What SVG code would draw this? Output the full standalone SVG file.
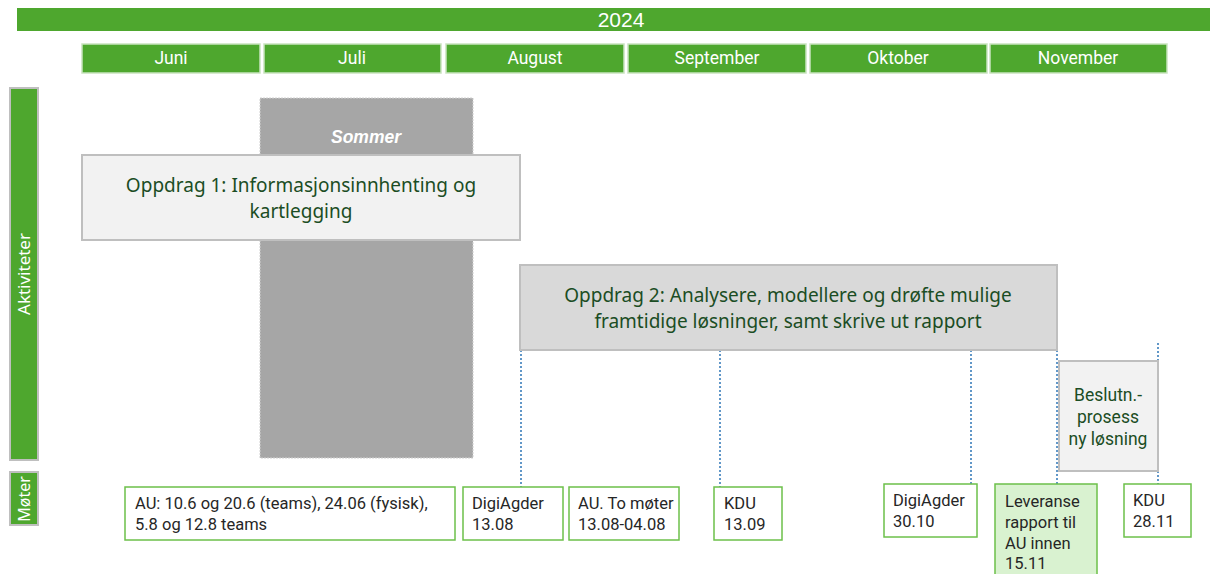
<svg xmlns="http://www.w3.org/2000/svg" width="1212" height="574" viewBox="0 0 1212 574">
<style>
.g{fill:#4ea72e;stroke:#c9e3bf;stroke-width:1.5}
.mt{font-family:Roboto,"Liberation Sans",sans-serif;font-size:17.5px;fill:#fff;text-anchor:middle}
.act{stroke:#bfbfbf;stroke-width:2}
.at{font-family:"Noto Sans","Open Sans",sans-serif;font-size:19px;fill:#1b4d24;text-anchor:middle}
.mb{stroke:#6cc04a;stroke-width:1.5}
.tx{font-family:Roboto,"Liberation Sans",sans-serif;font-size:16.5px;fill:#262626}
.bt{font-family:Roboto,"Liberation Sans",sans-serif;font-size:17.5px;fill:#1b4d24;text-anchor:middle}
.dl{stroke:#2e75b6;stroke-width:1.5;stroke-dasharray:2 2;fill:none}
</style>
<rect width="1212" height="574" fill="#fff"/>
<g id="year"><rect x="17" y="8" width="1193" height="23" fill="#4ea72e"/><text x="621" y="27" font-family="'Liberation Sans',sans-serif" font-size="21" fill="#fff" text-anchor="middle">2024</text></g>
<g id="months">
<g id="m-juni"><rect class="g" x="82" y="44" width="178" height="29"/><text class="mt" x="171" y="64">Juni</text></g>
<g id="m-juli"><rect class="g" x="264" y="44" width="177" height="29"/><text class="mt" x="352" y="64">Juli</text></g>
<g id="m-aug"><rect class="g" x="446" y="44" width="178" height="29"/><text class="mt" x="535" y="64">August</text></g>
<g id="m-sep"><rect class="g" x="628" y="44" width="178" height="29"/><text class="mt" x="717" y="64">September</text></g>
<g id="m-okt"><rect class="g" x="810" y="44" width="177" height="29"/><text class="mt" x="898" y="64">Oktober</text></g>
<g id="m-nov"><rect class="g" x="990" y="44" width="177" height="29"/><text class="mt" x="1078" y="64">November</text></g>
</g>
<g id="lbl-akt"><rect x="10" y="88" width="28" height="372" fill="#4ea72e" stroke="#bfbfbf" stroke-width="2"/><text transform="translate(30,274) rotate(-90)" font-family="'Noto Sans','Open Sans',sans-serif" font-size="17" fill="#fff" text-anchor="middle">Aktiviteter</text></g>
<g id="lbl-mot"><rect x="10" y="472" width="28" height="53" fill="#4ea72e" stroke="#bfbfbf" stroke-width="2"/><text transform="translate(30,499) rotate(-90)" font-family="'Noto Sans','Open Sans',sans-serif" font-size="16" fill="#fff" text-anchor="middle">Møter</text></g>
<g id="sommer"><rect x="260" y="98" width="213" height="360" fill="#a6a6a6" stroke="#d0d0d0" stroke-width="1" stroke-dasharray="2 1"/><text x="366" y="143" font-family="'Liberation Sans',sans-serif" font-size="17.5" font-weight="bold" font-style="italic" fill="#fff" text-anchor="middle">Sommer</text></g>
<g id="oppdrag1"><rect class="act" x="82" y="155" width="438" height="85" fill="#f2f2f2"/><text class="at" x="301" y="192">Oppdrag 1: Informasjonsinnhenting og</text><text class="at" x="301" y="218">kartlegging</text></g>
<g id="connectors">
<line class="dl" x1="521" y1="350" x2="521" y2="487"/>
<line class="dl" x1="720" y1="350" x2="720" y2="487"/>
<line class="dl" x1="971" y1="350" x2="971" y2="484"/>
<line class="dl" x1="1057" y1="350" x2="1057" y2="484"/>
<line class="dl" x1="1158" y1="343" x2="1158" y2="484"/>
</g>
<g id="oppdrag2"><rect class="act" x="520" y="265" width="537" height="85" fill="#d9d9d9"/><text class="at" x="788" y="302">Oppdrag 2: Analysere, modellere og drøfte mulige</text><text class="at" x="788" y="328">framtidige løsninger, samt skrive ut rapport</text></g>
<g id="beslutn"><rect class="act" x="1059" y="361" width="99" height="110" fill="#f2f2f2"/><text class="bt" x="1108" y="401">Beslutn.-</text><text class="bt" x="1108" y="423">prosess</text><text class="bt" x="1108" y="445">ny løsning</text></g>
<g id="au1"><rect class="mb" fill="#fff" x="125" y="487" width="330" height="53"/><text class="tx" x="135" y="509">AU: 10.6 og 20.6 (teams), 24.06 (fysisk),</text><text class="tx" x="135" y="530">5.8 og 12.8 teams</text></g>
<g id="digi1"><rect class="mb" fill="#fff" x="463" y="487" width="100" height="53"/><text class="tx" x="472" y="509">DigiAgder</text><text class="tx" x="472" y="530">13.08</text></g>
<g id="au2"><rect class="mb" fill="#fff" x="569" y="487" width="110" height="53"/><text class="tx" x="578" y="509">AU. To møter</text><text class="tx" x="578" y="530">13.08-04.08</text></g>
<g id="kdu1"><rect class="mb" fill="#fff" x="714" y="487" width="68" height="53"/><text class="tx" x="724" y="509">KDU</text><text class="tx" x="724" y="530">13.09</text></g>
<g id="digi2"><rect class="mb" fill="#fff" x="884" y="484" width="93" height="53"/><text class="tx" x="893" y="506">DigiAgder</text><text class="tx" x="893" y="527">30.10</text></g>
<g id="leveranse"><rect class="mb" fill="#d9f2d0" x="995" y="484" width="102" height="92"/><text class="tx" x="1005" y="507">Leveranse</text><text class="tx" x="1005" y="528">rapport til</text><text class="tx" x="1005" y="549">AU innen</text><text class="tx" x="1005" y="569">15.11</text></g>
<g id="kdu2"><rect class="mb" fill="#fff" x="1124" y="484" width="67" height="53"/><text class="tx" x="1133" y="506">KDU</text><text class="tx" x="1133" y="527">28.11</text></g>
</svg>
